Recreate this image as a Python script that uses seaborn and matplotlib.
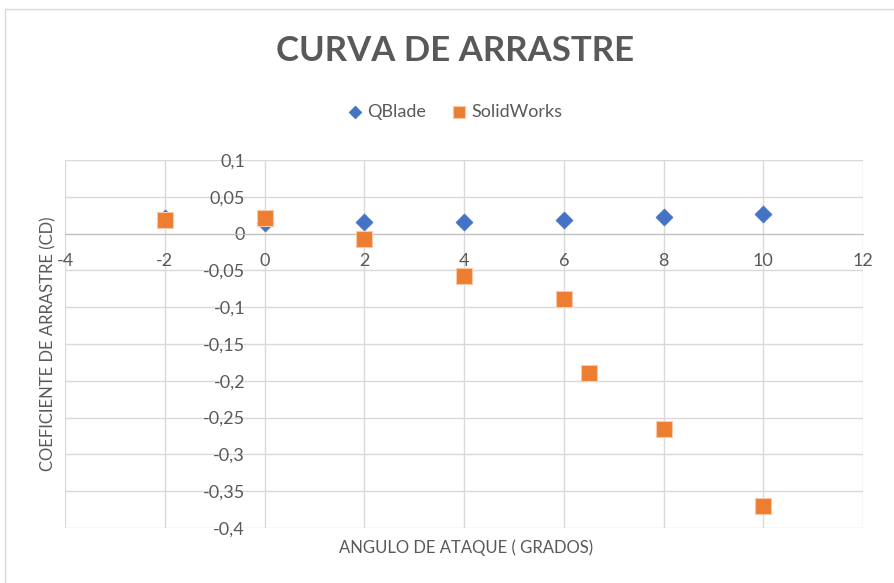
import matplotlib
matplotlib.use("Agg")
import matplotlib.pyplot as plt
import seaborn as sns
import pandas as pd
from matplotlib.ticker import FuncFormatter, MultipleLocator
from matplotlib.patches import Rectangle

# data
qblade_angle = [-2, 0, 2, 4, 6, 8, 10]
qblade_cd = [0.021, 0.015, 0.016, 0.016, 0.018, 0.022, 0.027]

solid_angle = [-2, 0, 2, 4, 6, 6.5, 8, 10]
solid_cd = [0.018, 0.021, -0.008, -0.058, -0.089, -0.19, -0.265, -0.37]

title = "CURVA DE ARRASTRE"
xlabel = "ANGULO DE ATAQUE ( GRADOS)"
ylabel = "COEFICIENTE DE ARRASTRE (CD)"

qb = pd.DataFrame({"angle": qblade_angle, "cd": qblade_cd})
sw = pd.DataFrame({"angle": solid_angle, "cd": solid_cd})

sns.set_style("white")
plt.rcParams["font.family"] = ["Lato", "DejaVu Sans"]
text_gray = "#595959"

fig = plt.figure(figsize=(8.94, 5.83), dpi=100)
ax = fig.add_axes([65 / 894, 1 - 528 / 583, 798 / 894, 368 / 583])

sns.scatterplot(data=qb, x="angle", y="cd", marker="D", s=75, color="#4472C4",
                edgecolor="#4472C4", linewidth=0.5, ax=ax, label="QBlade", zorder=3)
sns.scatterplot(data=sw, x="angle", y="cd", marker="s", s=120, color="#ED7D31",
                edgecolor="#F8C9A8", linewidth=0.8, ax=ax, label="SolidWorks", zorder=4)

ax.set_xlim(-4, 12)
ax.set_ylim(-0.4, 0.1)
ax.xaxis.set_major_locator(MultipleLocator(2))
ax.yaxis.set_major_locator(MultipleLocator(0.05))

def comma(v, pos):
    s = f"{v:.2f}".rstrip("0").rstrip(".")
    if s in ("-0", "0"):
        s = "0"
    return s.replace(".", ",")

ax.xaxis.set_major_formatter(FuncFormatter(comma))
ax.yaxis.set_major_formatter(FuncFormatter(comma))

ax.grid(True, color="#D9D9D9", linewidth=1)
ax.set_axisbelow(True)
for side in ["top", "right"]:
    ax.spines[side].set_visible(False)
ax.spines["bottom"].set_position(("data", 0))
ax.spines["bottom"].set_color("#BFBFBF")
ax.spines["left"].set_position(("data", 0))
ax.spines["left"].set_visible(False)

ax.tick_params(axis="x", length=0, pad=14, labelsize=13, labelcolor=text_gray)
ax.tick_params(axis="y", length=0, pad=14, labelsize=13, labelcolor=text_gray)

ax.set_xlabel("")
ax.set_ylabel("")
fig.text(466 / 894, 1 - 548 / 583, xlabel, ha="center", va="center",
         fontsize=12, color=text_gray)
fig.text(48 / 894, 1 - 344 / 583, ylabel, ha="center", va="center",
         rotation=90, fontsize=12, color=text_gray)

fig.text(455 / 894, 1 - 51 / 583, title, ha="center", va="center",
         fontsize=25, fontweight="bold", color=text_gray)

ax.legend(loc="center", bbox_to_anchor=(455 / 894, 1 - 112 / 583),
          bbox_transform=fig.transFigure, ncol=2, frameon=False,
          fontsize=13, labelcolor=text_gray, handlelength=0.8,
          handletextpad=0.3, columnspacing=1.4, markerscale=0.75)

fig.patches.append(Rectangle((5 / 894, -0.1), 1.0, 1.1 - 9 / 583,
                             transform=fig.transFigure, fill=False,
                             edgecolor="#D9D9D9", linewidth=1))

fig.savefig("out.png", dpi=100)
